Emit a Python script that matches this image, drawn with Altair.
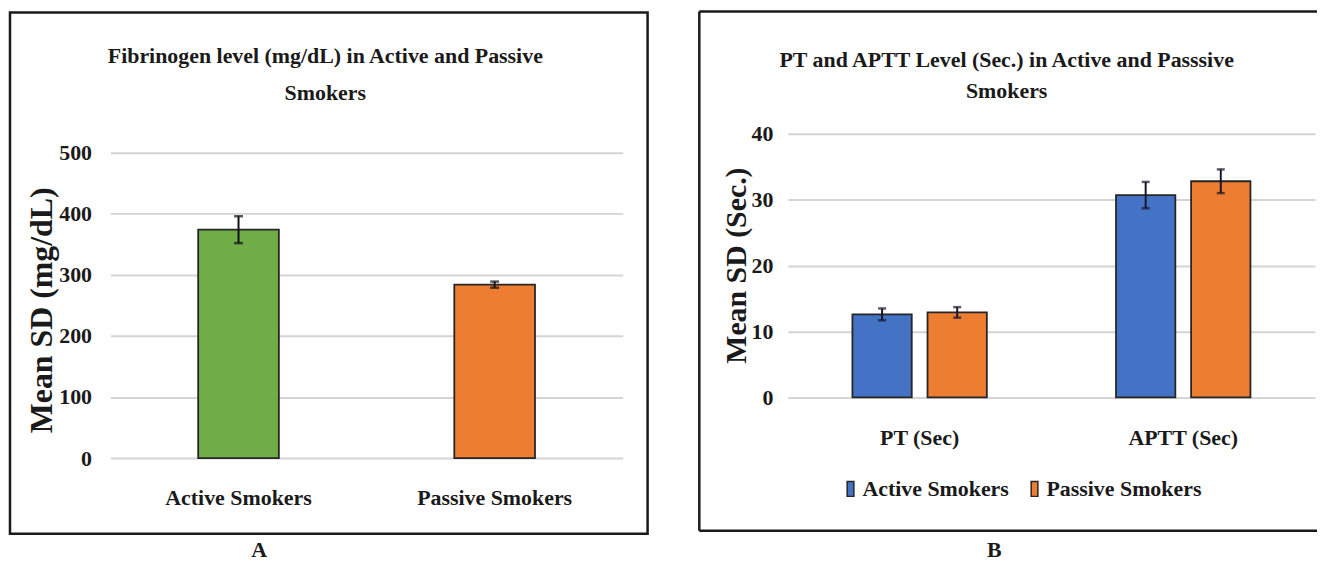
import altair as alt
import pandas as pd

# ---------------- data ----------------
TITLE_A = "Fibrinogen level (mg/dL) in Active and Passive\nSmokers"
TITLE_B = "PT and APTT Level (Sec.) in Active and Passsive\nSmokers"
Y_TITLE_A = "Mean SD (mg/dL)"
Y_TITLE_B = "Mean SD (Sec.)"
PANEL_A = "A"
PANEL_B = "B"

GROUPS_A = ["Active Smokers", "Passive Smokers"]
MEAN_A = [374, 284]
SD_A = [22, 5]
Y_TICKS_A = [0, 100, 200, 300, 400, 500]

TESTS_B = ["PT (Sec)", "APTT (Sec)"]
SERIES_B = ["Active Smokers", "Passive Smokers"]
MEAN_B_ACTIVE = [12.6, 30.7]
MEAN_B_PASSIVE = [12.9, 32.8]
SD_B_ACTIVE = [0.9, 2.0]
SD_B_PASSIVE = [0.8, 1.8]
Y_TICKS_B = [0, 10, 20, 30, 40]

FONT = "Liberation Serif"
TXT = "#1a1a1a"
GREEN = "#70AD47"
ORANGE = "#ED7D31"
BLUE = "#4472C4"
EDGE = "#262626"
GRID = "#d4d4d4"

# ---------------- panel A ----------------
# plot area top is shared with panel B (aligned rows), so A's scale reaches a bit above 500
W_A, H_A = 515, 326
Y_DOMAIN_A = [0, 531]
df_a = pd.DataFrame({"group": GROUPS_A, "mean": MEAN_A, "sd": SD_A})
df_a["lo"] = df_a["mean"] - df_a["sd"]
df_a["hi"] = df_a["mean"] + df_a["sd"]

ax_x_a = alt.Axis(title=PANEL_A, labelAngle=0, labelPadding=30, grid=False,
                  titleX=149, titleY=99, titleAlign="center",
                  titleBaseline="alphabetic", titleFontSize=22)
ax_y_a = alt.Axis(values=Y_TICKS_A, title=Y_TITLE_A, grid=True,
                  labelPadding=19, titleX=-69, titleY=177,
                  titleAngle=270, titleAlign="center",
                  titleBaseline="middle", titleFontSize=32)
sc_x_a = alt.Scale(paddingInner=0.685, paddingOuter=0.3425)
sc_y_a = alt.Scale(domain=Y_DOMAIN_A, nice=False)


def xa():
    return alt.X("group:N", sort=GROUPS_A, scale=sc_x_a, axis=ax_x_a, title=PANEL_A)


def ya(field):
    return alt.Y(field, type="quantitative", scale=sc_y_a, axis=ax_y_a, title=Y_TITLE_A)


bars_a = alt.Chart(df_a).mark_bar(stroke=EDGE, strokeWidth=1.8).encode(
    x=xa(),
    y=ya("mean"),
    color=alt.Color("group:N", sort=GROUPS_A,
                    scale=alt.Scale(domain=GROUPS_A, range=[GREEN, ORANGE]),
                    legend=None),
)
err_a = alt.Chart(df_a).mark_rule(color="#111", strokeWidth=2).encode(
    x=xa(), y=ya("lo"), y2="hi:Q"
)
cap_hi_a = alt.Chart(df_a).mark_tick(color="#111", size=9, thickness=2.5).encode(
    x=xa(), y=ya("hi")
)
cap_lo_a = alt.Chart(df_a).mark_tick(color="#111", size=9, thickness=2.5).encode(
    x=xa(), y=ya("lo")
)
title_a = alt.Chart(pd.DataFrame({"t": [TITLE_A]})).mark_text(
    align="center", baseline="alphabetic", lineBreak="\n", lineHeight=37,
    font=FONT, fontSize=22, fontWeight="bold", color=TXT,
).encode(x=alt.value(216), y=alt.value(-71), text="t:N")
box_a = alt.Chart(pd.DataFrame({"k": [0]})).mark_rect(
    fillOpacity=0, stroke="#1a1a1a", strokeWidth=2.5
).encode(x=alt.value(-101), x2=alt.value(540), y=alt.value(-122), y2=alt.value(402))

panel_a = alt.layer(bars_a, err_a, cap_hi_a, cap_lo_a, title_a, box_a).properties(
    width=W_A, height=H_A
)

# ---------------- panel B ----------------
W_B, H_B = 530, 265
rows = []
for i, t in enumerate(TESTS_B):
    rows.append({"test": t, "series": SERIES_B[0], "mean": MEAN_B_ACTIVE[i], "sd": SD_B_ACTIVE[i]})
    rows.append({"test": t, "series": SERIES_B[1], "mean": MEAN_B_PASSIVE[i], "sd": SD_B_PASSIVE[i]})
df_b = pd.DataFrame(rows)
df_b["lo"] = df_b["mean"] - df_b["sd"]
df_b["hi"] = df_b["mean"] + df_b["sd"]

ax_x_b = alt.Axis(title=PANEL_B, labelAngle=0, labelPadding=30, grid=False,
                  titleX=207, titleY=160, titleAlign="center",
                  titleBaseline="alphabetic", titleFontSize=22)
ax_y_b = alt.Axis(values=Y_TICKS_B, title=Y_TITLE_B, grid=True,
                  labelPadding=15, titleX=-52, titleY=132,
                  titleAngle=270, titleAlign="center",
                  titleBaseline="middle", titleFontSize=30)
sc_x_b = alt.Scale(paddingInner=0.49, paddingOuter=0.245)
sc_xo_b = alt.Scale(paddingInner=0.21, paddingOuter=0)
sc_y_b = alt.Scale(domain=[0, 40], nice=False)


def xb():
    return alt.X("test:N", sort=TESTS_B, scale=sc_x_b, axis=ax_x_b, title=PANEL_B)


def xob():
    return alt.XOffset("series:N", sort=SERIES_B, scale=sc_xo_b)


def yb(field):
    return alt.Y(field, type="quantitative", scale=sc_y_b, axis=ax_y_b, title=Y_TITLE_B)


RECT_PATH = "M-0.45,-1H0.45V1H-0.45Z"
bars_b = alt.Chart(df_b).mark_bar(stroke=EDGE, strokeWidth=1.8).encode(
    x=xb(),
    xOffset=xob(),
    y=yb("mean"),
    color=alt.Color("series:N", sort=SERIES_B,
                    scale=alt.Scale(domain=SERIES_B, range=[BLUE, ORANGE]),
                    legend=alt.Legend(orient="none", legendX=52, legendY=346,
                                      direction="horizontal", title=None,
                                      symbolType=RECT_PATH, symbolSize=225,
                                      symbolStrokeColor=EDGE, symbolStrokeWidth=1.5,
                                      labelFont=FONT, labelFontSize=22,
                                      labelFontWeight="bold", labelColor=TXT,
                                      labelOffset=1, columnPadding=14, padding=0)),
)
err_b = alt.Chart(df_b).mark_rule(color="#14182a", strokeWidth=2).encode(
    x=xb(), xOffset=xob(), y=yb("lo"), y2="hi:Q"
)
cap_hi_b = alt.Chart(df_b).mark_tick(color="#14182a", size=8, thickness=2.5).encode(
    x=xb(), xOffset=xob(), y=yb("hi")
)
cap_lo_b = alt.Chart(df_b).mark_tick(color="#14182a", size=8, thickness=2.5).encode(
    x=xb(), xOffset=xob(), y=yb("lo")
)
title_b = alt.Chart(pd.DataFrame({"t": [TITLE_B]})).mark_text(
    align="center", baseline="alphabetic", lineBreak="\n", lineHeight=31,
    font=FONT, fontSize=22, fontWeight="bold", color=TXT,
).encode(x=alt.value(220), y=alt.value(-67), text="t:N")

one = pd.DataFrame({"k": [0]})
box_b_left = alt.Chart(one).mark_rule(color="#1a1a1a", strokeWidth=2.5).encode(
    x=alt.value(-89), y=alt.value(-123), y2=alt.value(399))
box_b_top = alt.Chart(one).mark_rule(color="#1a1a1a", strokeWidth=2.5).encode(
    x=alt.value(-89), x2=alt.value(532), y=alt.value(-123))
box_b_bottom = alt.Chart(one).mark_rule(color="#1a1a1a", strokeWidth=2.5).encode(
    x=alt.value(-89), x2=alt.value(532), y=alt.value(399))

panel_b = alt.layer(bars_b, err_b, cap_hi_b, cap_lo_b, title_b,
                    box_b_left, box_b_top, box_b_bottom).properties(
    width=W_B, height=H_B
)

chart = alt.hconcat(panel_a, panel_b, spacing=48).resolve_scale(
    color="independent"
).properties(
    padding={"left": 0, "top": 0, "right": 0, "bottom": 0},
    background="white",
).configure_view(stroke=None).configure_axis(
    labelFont=FONT, labelFontSize=22, labelFontWeight="bold", labelColor=TXT,
    titleFont=FONT, titleFontWeight="bold", titleColor=TXT,
    domain=False, ticks=False, tickSize=0,
    gridColor=GRID, gridWidth=2,
)

chart.save("out.html", embed_options={"renderer": "svg", "actions": False})
